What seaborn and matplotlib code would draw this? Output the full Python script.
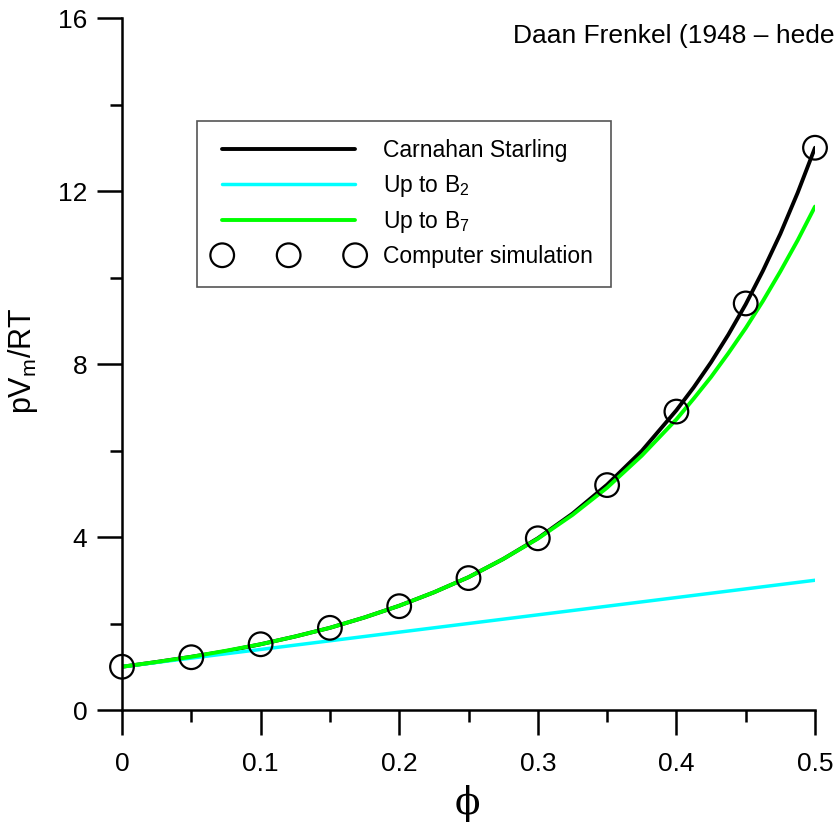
import matplotlib
matplotlib.use("Agg")
import matplotlib.pyplot as plt
from matplotlib.ticker import MultipleLocator
import seaborn as sns

sns.set_style("ticks", {"axes.edgecolor": "black", "xtick.color": "black",
                        "ytick.color": "black", "text.color": "black",
                        "axes.labelcolor": "black"})
plt.rcParams["font.family"] = ["Liberation Sans", "DejaVu Sans"]
plt.rcParams["mathtext.default"] = "regular"

phi = [0.0, 0.025, 0.05, 0.075, 0.1, 0.125, 0.15, 0.175, 0.2, 0.225, 0.25,
       0.275, 0.3, 0.325, 0.35, 0.375, 0.4, 0.4125, 0.425, 0.4375, 0.45,
       0.4625, 0.475, 0.4875, 0.5]
# Carnahan Starling (black)
z_cs = [1.0, 1.11, 1.23, 1.36, 1.52, 1.70, 1.90, 2.14, 2.41, 2.72, 3.07,
        3.49, 3.97, 4.54, 5.21, 5.99, 6.93, 7.46, 8.04, 8.68, 9.38,
        10.16, 11.01, 11.96, 13.0]
# up to B7 (green)
z_b7 = [1.0, 1.11, 1.23, 1.37, 1.52, 1.70, 1.90, 2.14, 2.41, 2.72, 3.07,
        3.49, 3.96, 4.51, 5.14, 5.88, 6.72, 7.20, 7.70, 8.25, 8.83,
        9.46, 10.14, 10.86, 11.64]
# up to B2 (cyan), straight line
phi_b2 = [0.0, 0.5]
z_b2 = [1.0, 3.0]
# computer simulation points
phi_sim = [0.0, 0.05, 0.1, 0.15, 0.2, 0.25, 0.3, 0.35, 0.4, 0.45, 0.5]
z_sim = [1.0, 1.22, 1.52, 1.90, 2.40, 3.05, 3.97, 5.20, 6.90, 9.40, 13.0]

fig = plt.figure(figsize=(8.36, 8.22), dpi=100)
ax = fig.add_axes([122 / 836, 1 - 710 / 822, 693 / 836, 692 / 822])

sns.lineplot(x=phi, y=z_cs, color="black", lw=2.8, label="Carnahan Starling",
             ax=ax, sort=False, solid_capstyle="round")
sns.lineplot(x=phi_b2, y=z_b2, color="#00ffff", lw=2.5, label="Up to B$_2$",
             ax=ax, sort=False)
sns.lineplot(x=phi, y=z_b7, color="#00ff00", lw=2.8, label="Up to B$_7$",
             ax=ax, sort=False, solid_capstyle="round")
sns.scatterplot(x=phi_sim, y=z_sim, marker="o", s=290, facecolors="none",
                edgecolor="black", linewidth=1.6, clip_on=False, zorder=5,
                label="Computer simulation", ax=ax)

ax.set_xlim(0, 0.5)
ax.set_ylim(0, 16)
ax.set_xticks([0, 0.1, 0.2, 0.3, 0.4, 0.5])
ax.set_xticklabels(["0", "0.1", "0.2", "0.3", "0.4", "0.5"])
ax.xaxis.set_minor_locator(MultipleLocator(0.05))
ax.yaxis.set_major_locator(MultipleLocator(4))
ax.yaxis.set_minor_locator(MultipleLocator(2))

sns.despine(ax=ax)
for side in ["left", "bottom"]:
    ax.spines[side].set_linewidth(1.8)
ax.tick_params(which="major", length=18, width=1.8, labelsize=19)
ax.tick_params(which="minor", length=8.5, width=1.8)
ax.tick_params(axis="x", which="major", pad=12)
ax.tick_params(axis="y", which="major", pad=7)

ax.set_ylabel("pV$_m$/RT", fontsize=22)
ax.yaxis.set_label_coords(-0.118, 0.505)
ax.set_xlabel("ϕ", fontsize=27, family=["DejaVu Serif", "Liberation Serif"], va="top")
ax.xaxis.set_label_coords(0.498, -0.108)

leg = ax.legend(loc="upper left", bbox_to_anchor=(197 / 836, 1 - 121 / 822),
                bbox_transform=fig.transFigure, borderaxespad=0, fontsize=16.5,
                numpoints=3, scatterpoints=3, scatteryoffsets=[0.5],
                handlelength=6.4, handletextpad=0.92, borderpad=0.8,
                labelspacing=0.45, fancybox=False, framealpha=1)
leg.get_frame().set_edgecolor("#555555")
leg.get_frame().set_linewidth(1.2)

fig.text(513 / 836, 1 - 43 / 822, "Daan Frenkel (1948 – heden)", fontsize=19, va="baseline")

fig.savefig("out.png", dpi=100)
